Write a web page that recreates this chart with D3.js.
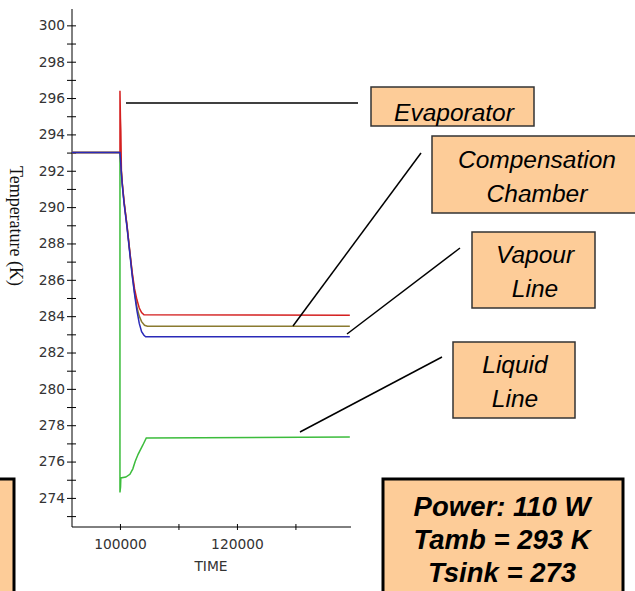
<!DOCTYPE html>
<html>
<head>
<meta charset="utf-8">
<script src="https://cdn.jsdelivr.net/npm/d3@7"></script>
<style>
    body { margin: 0; background: #fff; }
    svg { display: block; }
</style>
</head>
<body>
<div id="chart"></div>
<script>

// data (time in s, temperature in K)
var evaporator = [[91800,293],[100000,293],[100000,296.4],[100080,294.9],[100150,294.2],[100250,292.0],[100400,291.3],
    [100700,290.3],[101200,289.0],[101700,287.5],[102100,286.4],[102500,285.5],[102900,284.9],[103300,284.45],
    [103700,284.2],[104100,284.08],[139300,284.05]];

var compChamber = [[91800,293],[100000,293],[100150,292.3],[100400,291.3],[100700,290.3],[101200,289.0],[101700,287.5],
    [102100,286.3],[102500,285.3],[102900,284.5],[103300,284.0],[103700,283.7],[104200,283.5],[104700,283.45],[139300,283.45]];

var vapourLine = [[91800,293],[100000,293],[100100,292.6],[100250,291.8],[100400,291.2],[100700,290.2],[101200,288.9],
    [101700,287.4],[102100,286.2],[102500,285.2],[102900,284.3],[103300,283.6],[103700,283.15],[104100,282.95],
    [104400,282.87],[139300,282.87]];

var liquidLine = [[91800,293],[100000,293],[100000,274.3],[100100,274.6],[100150,275.1],[101000,275.15],[101700,275.3],
    [102200,275.6],[102600,276.0],[103100,276.4],[103900,276.9],[104500,277.3],[139300,277.35]];

var yMajorTicks = [274,276,278,280,282,284,286,288,290,292,294,296,298,300];
var yMinorTicks = [273,275,277,279,281,283,285,287,289,291,293,295,297,299];
var xMajorTicks = [100000,120000];
var xMinorTicks = [110000,130000];

var seriesNames = ["Evaporator", "Compensation Chamber", "Vapour Line", "Liquid Line"];
var infoLines = ["Power: 110 W", "Tamb = 293 K", "Tsink = 273"];

var W = 635, H = 591;
var svg = d3.select('#chart').append('svg')
    .attr('width', W)
    .attr('height', H);

var x = d3.scaleLinear().domain([91800, 139500]).range([72, 351]);
var y = d3.scaleLinear().domain([272.4, 300.9]).range([527, 9]);

var line = d3.line()
    .x(function(d) { return x(d[0]); })
    .y(function(d) { return y(d[1]); });

//축 그리기
var tickFont = 'DejaVu Sans, Verdana, sans-serif';

var gy = svg.append('g')
    .attr('transform', 'translate(' + x.range()[0] + ',0)')
    .call(d3.axisLeft(y).tickValues(yMajorTicks.concat(yMinorTicks)).tickSize(5).tickPadding(2)
        .tickFormat(function(d) { return yMajorTicks.indexOf(d) >= 0 ? d : ''; }));
gy.select('.domain').attr('d', 'M0,' + y.range()[1] + 'V' + y.range()[0]).attr('stroke', '#000');
gy.selectAll('.tick line').attr('stroke', '#000');
gy.selectAll('.tick').append('line').attr('x1', 0).attr('x2', 4).attr('stroke', '#000');
gy.selectAll('.tick text').style('font-family', tickFont).style('font-size', '13.8px').attr('fill', '#333');

var gx = svg.append('g')
    .attr('transform', 'translate(0,' + y.range()[0] + ')')
    .call(d3.axisBottom(x).tickValues(xMajorTicks.concat(xMinorTicks)).tickSize(3).tickPadding(9)
        .tickFormat(function(d) { return xMajorTicks.indexOf(d) >= 0 ? d : ''; }));
gx.select('.domain').attr('d', 'M' + x.range()[0] + ',0H' + x.range()[1]).attr('stroke', '#000');
gx.selectAll('.tick line').attr('stroke', '#000');
gx.selectAll('.tick').append('line').attr('y1', 0).attr('y2', -3).attr('stroke', '#000');
gx.selectAll('.tick text').style('font-family', tickFont).style('font-size', '13.8px').attr('fill', '#333');

svg.append('text')
    .attr('x', 211).attr('y', 571)
    .attr('text-anchor', 'middle')
    .style('font-family', tickFont).style('font-size', '13.8px')
    .attr('fill', '#333')
    .text('TIME');

svg.append('text')
    .attr('transform', 'translate(10,226) rotate(90)')
    .attr('text-anchor', 'middle')
    .style('font-family', 'Liberation Serif, Times New Roman, serif').style('font-size', '18px')
    .attr('fill', '#111')
    .text('Temperature (K)');

// 곡선들
var curves = [
    { data: liquidLine, color: '#3cbc3c' },
    { data: compChamber, color: '#8a7a30' },
    { data: evaporator, color: '#d42020' },
    { data: vapourLine, color: '#2a2ab8' }
];
curves.forEach(function(c) {
    svg.append('path')
        .datum(c.data)
        .attr('d', line)
        .attr('fill', 'none')
        .attr('stroke', c.color)
        .attr('stroke-width', 1.5);
});

// 라벨 박스
var boxFill = '#fdcc98';
var boxes = [
    { name: seriesNames[0], bx: 371, by: 87, bw: 163, bh: 39, lines: ['Evaporator'], base: [121], cx: 454,
      lead: [126, 103, 358, 103] },
    { name: seriesNames[1], bx: 432, by: 136, bw: 210, bh: 77, lines: ['Compensation', 'Chamber'], base: [168, 202], cx: 537,
      lead: [293, 326, 421, 153] },
    { name: seriesNames[2], bx: 472, by: 232, bw: 123, bh: 76, lines: ['Vapour', 'Line'], base: [263, 297], cx: 535,
      lead: [347, 334, 460, 248] },
    { name: seriesNames[3], bx: 453, by: 342, bw: 122, bh: 76, lines: ['Liquid', 'Line'], base: [373, 407], cx: 515,
      lead: [300, 432, 442, 357] }
];

boxes.forEach(function(b) {
    svg.append('line')
        .attr('x1', b.lead[0]).attr('y1', b.lead[1])
        .attr('x2', b.lead[2]).attr('y2', b.lead[3])
        .attr('stroke', '#000').attr('stroke-width', 1.5);
    svg.append('rect')
        .attr('x', b.bx).attr('y', b.by)
        .attr('width', b.bw).attr('height', b.bh)
        .attr('fill', boxFill).attr('stroke', '#333').attr('stroke-width', 1.5);
    b.lines.forEach(function(t, i) {
        svg.append('text')
            .attr('x', b.cx).attr('y', b.base[i])
            .attr('text-anchor', 'middle')
            .style('font-family', 'Liberation Sans, Arial, sans-serif')
            .style('font-style', 'italic')
            .style('font-size', '24.5px')
            .attr('fill', '#000')
            .text(t);
    });
});

// 조건 박스
svg.append('rect')
    .attr('x', 383).attr('y', 479).attr('width', 240).attr('height', 130)
    .attr('fill', boxFill).attr('stroke', '#000').attr('stroke-width', 3);
infoLines.forEach(function(t, i) {
    svg.append('text')
        .attr('x', 502).attr('y', 516 + i * 33)
        .attr('text-anchor', 'middle')
        .style('font-family', 'Liberation Sans, Arial, sans-serif')
        .style('font-style', 'italic').style('font-weight', 'bold')
        .style('font-size', '27.5px')
        .attr('fill', '#000')
        .text(t);
});

// 왼쪽 아래 잘린 박스
svg.append('rect')
    .attr('x', -20).attr('y', 479).attr('width', 34).attr('height', 130)
    .attr('fill', boxFill).attr('stroke', '#000').attr('stroke-width', 3);

</script>
</body>
</html>
